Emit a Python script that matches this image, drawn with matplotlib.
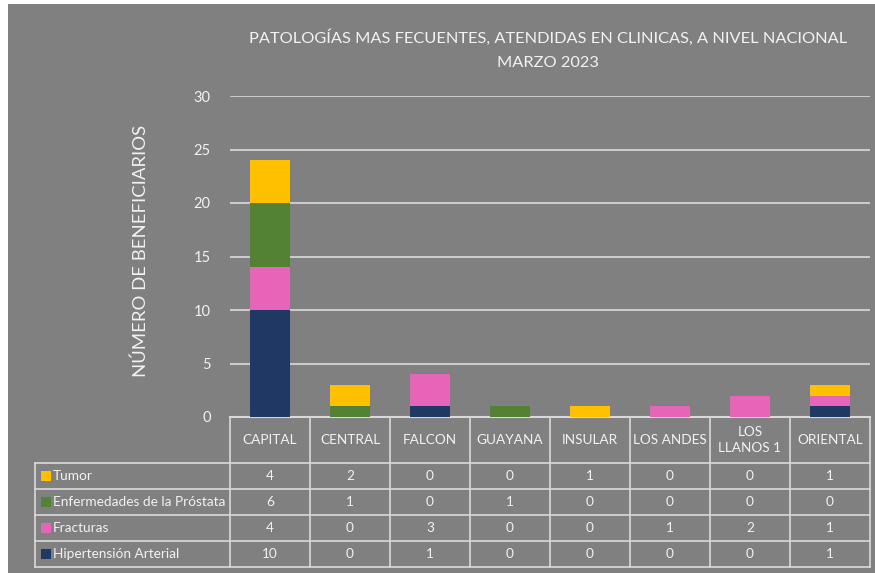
import matplotlib
matplotlib.use('Agg')
import matplotlib.pyplot as plt
from matplotlib.patches import Rectangle
import numpy as np

plt.rcParams['font.family'] = ['Lato', 'DejaVu Sans']

categories = ['CAPITAL', 'CENTRAL', 'FALCON', 'GUAYANA', 'INSULAR', 'LOS ANDES', 'LOS\nLLANOS 1', 'ORIENTAL']
series_names = ['Hipertensión Arterial', 'Fracturas', 'Enfermedades de la Próstata', 'Tumor']
hipertension = [10, 0, 1, 0, 0, 0, 0, 1]
fracturas = [4, 0, 3, 0, 0, 1, 2, 1]
prostata = [6, 1, 0, 1, 0, 0, 0, 0]
tumor = [4, 2, 0, 0, 1, 0, 0, 1]
colors = ['#203864', '#E765B9', '#548235', '#FFC000']

series = [hipertension, fracturas, prostata, tumor]

W, H = 875, 573
bg = '#808080'
txt = '#F2F2F2'
line_c = '#D9D9D9'

fig = plt.figure(figsize=(W / 100, H / 100), dpi=100)
fig.patch.set_facecolor('white')
fig.patches.append(Rectangle((8 / W, 0), 1, 1 - 4 / H, transform=fig.transFigure,
                             facecolor=bg, edgecolor='none', zorder=-10))

# zona del grafico
left, right = 230, 870
ax = fig.add_axes([left / W, 1 - 417 / H, (right - left) / W, (417 - 96) / H])
ax.set_facecolor('none')
x = np.arange(len(categories))
bottom = np.zeros(len(categories))
for vals, col, name in zip(series, colors, series_names):
    ax.bar(x, vals, 0.51, bottom=bottom, color=col, label=name, zorder=3)
    bottom += np.array(vals)

ax.set_xlim(-0.5, len(categories) - 0.5)
ax.set_ylim(0, 30)
ax.set_yticks(range(0, 31, 5))
ax.yaxis.grid(True, color=line_c, linewidth=1.2, zorder=0)
ax.set_axisbelow(True)
ax.tick_params(axis='y', length=0, colors=txt, labelsize=10.5, pad=14)
ax.set_xticks([])
for s in ['top', 'right', 'left']:
    ax.spines[s].set_visible(False)
ax.spines['bottom'].set_color(line_c)
ax.spines['bottom'].set_linewidth(1.5)

fig.text(548 / W, 1 - 38 / H, 'PATOLOGÍAS MAS FECUENTES, ATENDIDAS EN CLINICAS, A NIVEL NACIONAL',
         ha='center', va='center', color=txt, fontsize=11.8)
fig.text(548 / W, 1 - 63 / H, 'MARZO 2023', ha='center', va='center', color=txt, fontsize=11.8)
fig.text(141 / W, 1 - 251 / H, 'NÚMERO DE BENEFICIARIOS', rotation=90,
         ha='center', va='center', color=txt, fontsize=13.3)

# tabla de datos
tab = fig.add_axes([left / W, 1 - 567 / H, (right - left) / W, (567 - 417) / H])
tab.set_xlim(-0.5, len(categories) - 0.5)
tab.set_ylim(0, 150)
tab.axis('off')
tab.patch.set_visible(False)
col_w = (right - left) / len(categories)
x_leg = -0.5 - (left - 35) / col_w
row_h = 26
for b in np.arange(-0.5, len(categories), 1.0):
    tab.plot([b, b], [0, 150], color=line_c, lw=1.2, clip_on=False)
tab.plot([x_leg, x_leg], [0, 4 * row_h], color=line_c, lw=1.2, clip_on=False)
for r in range(5):
    tab.plot([x_leg, len(categories) - 0.5], [r * row_h, r * row_h], color=line_c, lw=1.2, clip_on=False)

for i, c in enumerate(categories):
    tab.text(i, 4 * row_h + 46 / 2, c, ha='center', va='center', color=txt, fontsize=9.8,
             linespacing=1.5)

rows = [tumor, prostata, fracturas, hipertension]
row_names = ['Tumor', 'Enfermedades de la Próstata', 'Fracturas', 'Hipertensión Arterial']
row_cols = ['#FFC000', '#548235', '#E765B9', '#203864']
sq = 10 / col_w
for r, (vals, name, col) in enumerate(zip(rows, row_names, row_cols)):
    yc = (3 - r) * row_h + row_h / 2
    tab.add_patch(Rectangle((x_leg + 6 / col_w, yc - 5), sq, 10, facecolor=col,
                            edgecolor='none', clip_on=False))
    tab.text(x_leg + 18 / col_w, yc, name, ha='left', va='center', color=txt, fontsize=9.8)
    for i, v in enumerate(vals):
        tab.text(i, yc, str(v), ha='center', va='center', color=txt, fontsize=9.8)

fig.savefig('out.png', dpi=100, facecolor=fig.get_facecolor())
